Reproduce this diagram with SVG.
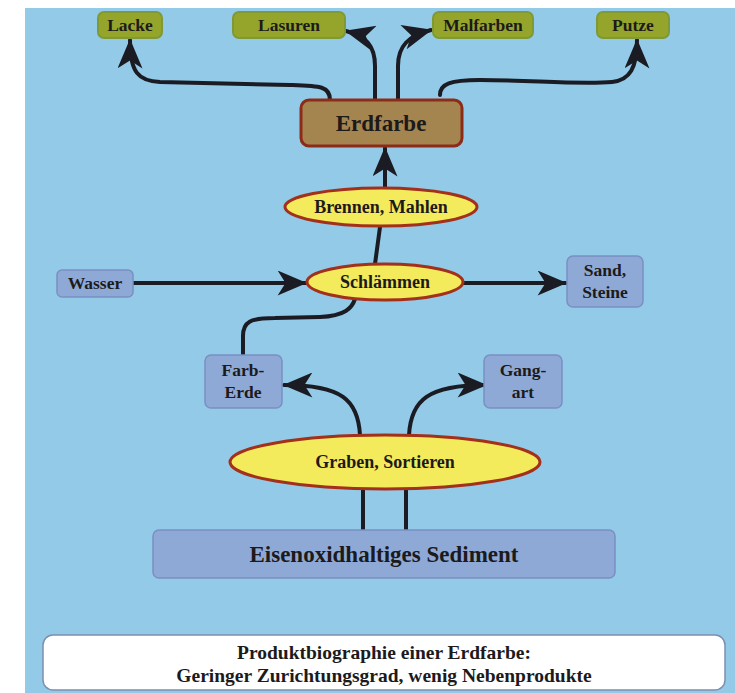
<svg xmlns="http://www.w3.org/2000/svg" width="735" height="693" viewBox="0 0 735 693">
<style>
.bg{fill:#92cae8}
.green rect{fill:#95a52b;stroke:#7f9a35;stroke-width:2}
.blue rect{fill:#8ea9d6;stroke:#7a90c2;stroke-width:1.5}
.ell ellipse{fill:#f3ea5c;stroke:#a2301b;stroke-width:3}
text{font-weight:bold;fill:#1c1a1a;text-anchor:middle}
.s14{font-size:17.5px}
.s15{font-size:18px}
.s20{font-size:23px}
.st{font-size:19.5px}
.conn path{fill:none;stroke:#1b1b24;stroke-width:4;stroke-linecap:round}
</style>
<defs>
<marker id="ah" markerUnits="userSpaceOnUse" viewBox="0 0 26 22" refX="25" refY="11" markerWidth="30" markerHeight="25" orient="auto">
<path d="M26,11 L0,0 L7,11 L0,22 Z" fill="#1b1b24"/>
</marker>
</defs>
<rect x="0" y="0" width="735" height="693" fill="#ffffff"/>
<rect class="bg" x="25" y="8" width="710" height="685"/>

<g id="connectors" class="conn">
<path d="M330,100 C330,86 320,86 290,85 C240,84 200,83 160,82 C138,81 130,72 130,40" marker-end="url(#ah)"/>
<path d="M375,100 L375,66 C375,46 366,36 346,31" marker-end="url(#ah)"/>
<path d="M398,100 L398,66 C398,46 408,36 431,30" marker-end="url(#ah)"/>
<path d="M440,95 C440,84 450,80 480,80 C530,80 580,85 612,82 C630,80 637,68 637,40" marker-end="url(#ah)"/>
<path d="M385,187 L385,148" marker-end="url(#ah)"/>
<path d="M380,227 L375,264"/>
<path d="M133,283 L306,283" marker-end="url(#ah)"/>
<path d="M463,283 L566,283" marker-end="url(#ah)"/>
<path d="M243,355 L243,336 C243,322 250,318 275,318 L320,317 C345,316 352,308 355,299"/>
<path d="M360,435 C358,400 342,385 284,385" marker-end="url(#ah)"/>
<path d="M409,435 C411,400 428,385 486,385" marker-end="url(#ah)"/>
<path d="M363,490 L363,530"/>
<path d="M406,490 L406,530"/>
</g>

<g font-family="'Liberation Serif', 'DejaVu Serif', serif">
<g id="lacke" class="green"><rect x="98" y="12" width="64" height="26" rx="6"/><text class="s14" x="130" y="31">Lacke</text></g>
<g id="lasuren" class="green"><rect x="233" y="12" width="112" height="26" rx="6"/><text class="s14" x="289" y="31">Lasuren</text></g>
<g id="malfarben" class="green"><rect x="433" y="12" width="100" height="26" rx="6"/><text class="s14" x="483" y="31">Malfarben</text></g>
<g id="putze" class="green"><rect x="597" y="12" width="72" height="26" rx="6"/><text class="s14" x="633" y="31">Putze</text></g>

<g id="erdfarbe"><rect x="301" y="100" width="161" height="46" rx="8" fill="#a4844f" stroke="#8c2c18" stroke-width="3"/><text class="s20" x="381" y="131">Erdfarbe</text></g>

<g id="brennen" class="ell"><ellipse cx="381" cy="207" rx="96" ry="19"/><text class="s15" x="381" y="213">Brennen, Mahlen</text></g>
<g id="schlaemmen" class="ell"><ellipse cx="385" cy="282" rx="78" ry="18"/><text class="s15" x="385" y="288">Schlämmen</text></g>
<g id="graben" class="ell"><ellipse cx="385" cy="462" rx="155" ry="27"/><text class="s15" x="385" y="468">Graben, Sortieren</text></g>

<g id="wasser" class="blue"><rect x="57" y="270" width="76" height="27" rx="5"/><text class="s14" x="95" y="289">Wasser</text></g>
<g id="sand" class="blue"><rect x="567" y="256" width="76" height="51" rx="6"/><text class="s14" x="605" y="276">Sand,</text><text class="s14" x="605" y="298">Steine</text></g>
<g id="farberde" class="blue"><rect x="205" y="355" width="77" height="53" rx="6"/><text class="s14" x="243" y="376">Farb-</text><text class="s14" x="243" y="398">Erde</text></g>
<g id="gangart" class="blue"><rect x="484" y="355" width="78" height="53" rx="6"/><text class="s14" x="523" y="376">Gang-</text><text class="s14" x="523" y="398">art</text></g>
<g id="sediment" class="blue"><rect x="153" y="530" width="462" height="48" rx="6"/><text class="s20" x="384" y="562">Eisenoxidhaltiges Sediment</text></g>

<g id="title"><rect x="43" y="635" width="682" height="55" rx="10" fill="#ffffff" stroke="#7d8fb0" stroke-width="1.5"/><text class="st" x="384" y="659">Produktbiographie einer Erdfarbe:</text><text class="st" x="384" y="682">Geringer Zurichtungsgrad, wenig Nebenprodukte</text></g>
</g>
</svg>
